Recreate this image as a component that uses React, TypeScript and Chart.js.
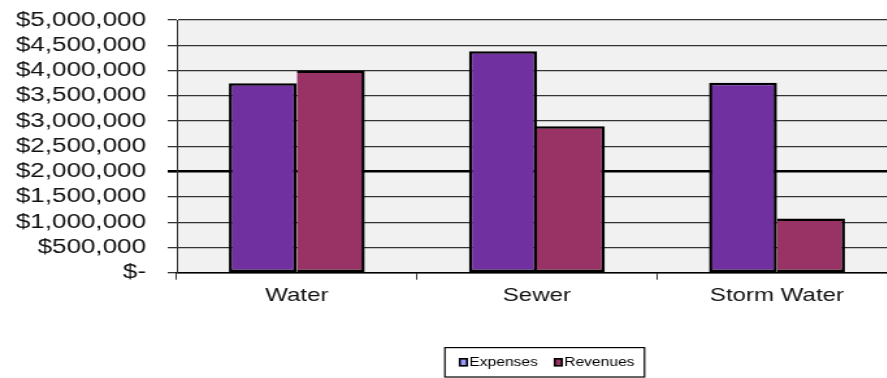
import { useEffect, useRef } from "react";
import { Chart, registerables } from "chart.js";

Chart.register(...registerables);

// Budget comparison by utility
const categories = ["Water", "Sewer", "Storm Water"];
const expenses = [3750000, 4380000, 3760000];
const revenues = [4000000, 2900000, 1070000];
const seriesNames = ["Expenses", "Revenues"];

const barColors = ["#7030a0", "#993366"];
const swatchColors = ["#9999ff", "#993366"];

const yMin = 0;
const yMax = 5000000;
const yStep = 500000;
const emphasisLine = 2000000;

const FONT = "'Liberation Sans', Arial, Helvetica, sans-serif";

// The chart is drawn on a narrower canvas and widened with a CSS scale,
// which gives the wide, stretched lettering of the original spreadsheet export.
const STRETCH = 1.3;
const CANVAS_W = 690;
const CANVAS_H = 378;

const formatDollars = (v: number) =>
  v === 0 ? "$-" : "$" + Math.round(v).toLocaleString("en-US");

const plotBackground = {
  id: "plotBackground",
  beforeDraw(chart: any) {
    const { ctx, chartArea } = chart;
    ctx.save();
    ctx.fillStyle = "#f1f1f1";
    ctx.fillRect(chartArea.left, chartArea.top, chartArea.right - chartArea.left, chartArea.bottom - chartArea.top);
    ctx.restore();
  },
};

// Boxed legend below the axis: small outlined swatches with tight label spacing.
const boxedLegend = {
  id: "boxedLegend",
  afterDraw(chart: any) {
    const { ctx, chartArea } = chart;
    const fontSize = 12;
    const swatchW = 5.5;
    const swatchH = 7;
    const swatchGap = 1.8;
    const itemGap = 13;
    const padLeft = 11.5;
    const padRight = 7.7;
    const cy = 362.3;
    const frameH = 29.4;

    ctx.save();
    ctx.font = `${fontSize}px ${FONT}`;
    const widths = seriesNames.map((n) => ctx.measureText(n).width);
    const itemsW =
      widths.reduce((a, w) => a + swatchW + swatchGap + w, 0) + itemGap * (seriesNames.length - 1);
    const frameW = padLeft + itemsW + padRight;
    const center = (chartArea.left + chartArea.right) / 2 + 6;
    const frameL = center - frameW / 2;

    ctx.strokeStyle = "#000";
    ctx.lineWidth = 1.2;
    ctx.strokeRect(frameL, cy - frameH / 2, frameW, frameH);

    let x = frameL + padLeft;
    ctx.textBaseline = "middle";
    ctx.textAlign = "left";
    seriesNames.forEach((name, i) => {
      ctx.fillStyle = swatchColors[i];
      ctx.fillRect(x, cy - swatchH / 2, swatchW, swatchH);
      ctx.strokeStyle = "#000";
      ctx.lineWidth = 1.6;
      ctx.strokeRect(x, cy - swatchH / 2, swatchW, swatchH);
      x += swatchW + swatchGap;
      ctx.fillStyle = "#000";
      ctx.fillText(name, x, cy);
      x += widths[i] + itemGap;
    });
    ctx.restore();
  },
};

export default function App() {
  const canvasRef = useRef<HTMLCanvasElement | null>(null);

  useEffect(() => {
    if (!canvasRef.current) return;
    const chart = new Chart(canvasRef.current, {
      type: "bar",
      data: {
        labels: categories,
        datasets: [
          {
            label: seriesNames[0],
            data: expenses,
            backgroundColor: barColors[0],
            borderColor: "#000",
            borderWidth: 2.5,
            borderSkipped: false,
            categoryPercentage: 0.566,
            barPercentage: 1,
          },
          {
            label: seriesNames[1],
            data: revenues,
            backgroundColor: barColors[1],
            borderColor: "#000",
            borderWidth: { top: 2.5, right: 2.5, bottom: 2.5, left: 0 },
            borderSkipped: false,
            categoryPercentage: 0.566,
            barPercentage: 1,
          },
        ],
      },
      options: {
        responsive: false,
        animation: false,
        devicePixelRatio: 1,
        layout: { padding: { top: 20, left: 0, right: 0, bottom: 46.5 } },
        plugins: {
          tooltip: { enabled: false },
          legend: { display: false },
        },
        scales: {
          x: {
            grid: {
              display: true,
              drawOnChartArea: false,
              drawTicks: true,
              tickLength: 7,
              color: "#333",
              offset: true,
            },
            border: { display: true, color: "#000", width: 1.5 },
            ticks: {
              color: "#111",
              padding: 5,
              font: { family: FONT, size: 18.5 },
            },
            afterFit: (s: any) => {
              s.height = 58.8;
            },
          },
          y: {
            min: yMin,
            max: yMax,
            ticks: {
              stepSize: yStep,
              autoSkip: false,
              callback: (v: any) => formatDollars(Number(v)),
              color: "#111",
              padding: 16.7,
              font: { family: FONT, size: 20 },
            },
            grid: {
              color: (ctx: any) => (ctx.tick && ctx.tick.value === emphasisLine ? "#000" : "#333"),
              lineWidth: (ctx: any) => (ctx.tick && ctx.tick.value === emphasisLine ? 2.6 : 1.3),
              tickLength: 7,
            },
            border: { display: true, color: "#333", width: 1 },
            afterFit: (s: any) => {
              s.width = 136;
              // the top label may sit in the outer margin
              s.paddingTop = 0;
            },
          },
        },
      },
      plugins: [plotBackground, boxedLegend],
    });
    return () => chart.destroy();
  }, []);

  return (
    <div
      style={{
        position: "fixed",
        left: 0,
        top: 0,
        width: 887,
        height: 378,
        overflow: "hidden",
        background: "#fff",
      }}
    >
      <canvas
        ref={canvasRef}
        width={CANVAS_W}
        height={CANVAS_H}
        style={{ display: "block", transform: `scaleX(${STRETCH})`, transformOrigin: "0 0" }}
      />
    </div>
  );
}
